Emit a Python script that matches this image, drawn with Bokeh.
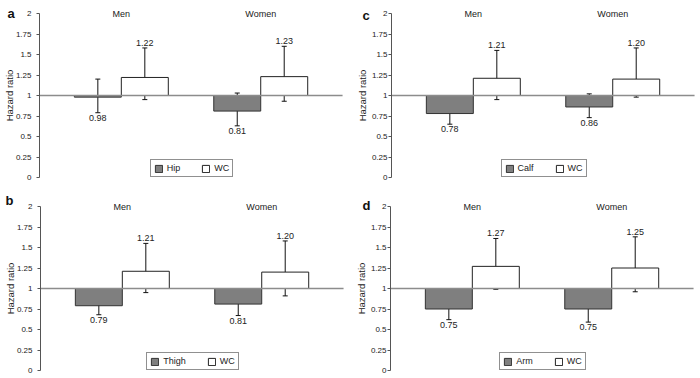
from bokeh.plotting import figure
from bokeh.models import (ColumnDataSource, Range1d, FixedTicker, Whisker, TeeHead,
                          Legend, LegendItem)
from bokeh.layouts import column, row
from bokeh.embed import file_html
from bokeh.resources import INLINE
from bokeh.core.properties import value

# ---------------- data ----------------
sexes = ["Men", "Women"]
panel_letters = ["a", "b", "c", "d"]
measures = ["Hip", "Thigh", "Calf", "Arm"]
measure_hr = [[0.98, 0.81], [0.79, 0.81], [0.78, 0.86], [0.75, 0.75]]
measure_lo = [[0.79, 0.63], [0.68, 0.67], [0.65, 0.73], [0.62, 0.59]]
measure_hi = [[1.20, 1.03], [0.91, 0.98], [0.92, 1.02], [0.90, 0.95]]
wc_hr = [[1.22, 1.23], [1.21, 1.20], [1.21, 1.20], [1.27, 1.25]]
wc_lo = [[0.95, 0.93], [0.95, 0.91], [0.95, 0.98], [0.99, 0.96]]
wc_hi = [[1.58, 1.60], [1.55, 1.58], [1.55, 1.58], [1.61, 1.63]]
y_ticks = [0, 0.25, 0.5, 0.75, 1, 1.25, 1.5, 1.75, 2]
y_tick_labels = ["0", "0.25", "0.5", "0.75", "1", "1.25", "1.5", "1.75", "2"]
baseline_hr = 1

# ---------------- style ----------------
FONT = "Liberation Sans"
TXT = "#222222"
BW = 0.337              # bar width (data units)
X0, X1 = -0.087, 2.087  # plotting area in data units
KX = 139.4              # px per x unit
KY = 82.0               # px per y unit
LEG_FS = 9.0
LEG_PAD, LEG_GLYPH, LEG_STANDOFF, LEG_SPACING = 3, 9, 4, 21
# approximate advance widths (em) for legend centring
CW = {"H": .722, "i": .222, "p": .556, "T": .611, "h": .556, "g": .556, "C": .722,
      "a": .556, "l": .222, "f": .278, "A": .667, "r": .333, "m": .833, "W": .944}


def text_w(s):
    return sum(CW.get(c, .556) for c in s) * LEG_FS


def make_panel(i, width, height, axis_px, top_px, tick_standoff, lab_standoff,
               letter_dx, letter_dy):
    xs = X0 - axis_px / KX
    xe = xs + width / KX
    ye = y_ticks[-1] + top_px / KY
    ys = ye - height / KY
    p = figure(width=width, height=height, output_backend="svg", toolbar_location=None,
               title=None, x_range=Range1d(xs, xe), y_range=Range1d(ys, ye),
               x_axis_location=None,
               min_border_left=0, min_border_right=0,
               min_border_top=0, min_border_bottom=0)
    p.outline_line_color = None
    p.grid.visible = False
    p.background_fill_color = "white"
    p.border_fill_color = "white"

    ax = p.yaxis[0]
    ax.fixed_location = X0
    ax.ticker = FixedTicker(ticks=y_ticks, minor_ticks=[])
    ax.major_label_overrides = dict(zip(y_ticks, y_tick_labels))
    ax.bounds = (y_ticks[0], y_ticks[-1])
    ax.axis_line_color = "#555555"
    ax.major_tick_line_color = "#555555"
    ax.major_tick_out = 3
    ax.major_tick_in = 0
    ax.minor_tick_out = 0
    ax.minor_tick_in = 0
    ax.major_label_text_font = FONT
    ax.major_label_text_font_size = "8px"
    ax.major_label_text_color = TXT
    ax.major_label_standoff = tick_standoff
    ax.axis_label = "Hazard ratio"
    ax.axis_label_text_font = FONT
    ax.axis_label_text_font_size = "9.5px"
    ax.axis_label_text_font_style = "normal"
    ax.axis_label_text_color = TXT
    ax.axis_label_standoff = lab_standoff

    xm = [k + 0.5 - BW / 2 for k in range(len(sexes))]
    xw = [k + 0.5 + BW / 2 for k in range(len(sexes))]
    src_m = ColumnDataSource(dict(x=xm, top=measure_hr[i], lo=measure_lo[i], hi=measure_hi[i],
                                  lab=[f"{v:.2f}" for v in measure_hr[i]]))
    src_w = ColumnDataSource(dict(x=xw, top=wc_hr[i], lo=wc_lo[i], hi=wc_hi[i],
                                  lab=[f"{v:.2f}" for v in wc_hr[i]]))

    r1 = p.vbar(x="x", width=BW, bottom=baseline_hr, top="top", source=src_m,
                fill_color="#7f7f7f", line_color="#333333", line_width=1)
    r2 = p.vbar(x="x", width=BW, bottom=baseline_hr, top="top", source=src_w,
                fill_color="white", line_color="#222222", line_width=1)

    # reference line at HR = 1, from the axis to the right end of the plot area
    p.segment(x0=[X0], x1=[X1], y0=[baseline_hr], y1=[baseline_hr],
              line_color="#8c8c8c", line_width=1.5)

    for src in (src_m, src_w):
        p.add_layout(Whisker(source=src, base="x", upper="hi", lower="lo",
                             dimension="height", line_color="#111111", line_width=1,
                             upper_head=TeeHead(size=5, line_color="#111111", line_width=1),
                             lower_head=TeeHead(size=5, line_color="#111111", line_width=1)))

    p.text(x="x", y="lo", text="lab", source=src_m, text_align="center",
           text_baseline="top", y_offset=2, text_font=value(FONT),
           text_font_size="9px", text_color=TXT)
    p.text(x="x", y="hi", text="lab", source=src_w, text_align="center",
           text_baseline="bottom", y_offset=-2, text_font=value(FONT),
           text_font_size="9px", text_color=TXT)

    p.text(x=[k + 0.5 for k in range(len(sexes))], y=[y_ticks[-1]] * len(sexes),
           text=sexes, text_align="center", text_baseline="middle",
           text_font=value(FONT), text_font_size="9px", text_color=TXT)

    # panel letter
    p.text(x=[X0], y=[y_ticks[-1]], text=[panel_letters[i]], x_offset=letter_dx,
           y_offset=letter_dy, text_align="left", text_baseline="middle",
           text_font=value(FONT), text_font_size="13px", text_font_style="bold",
           text_color="#111111")

    leg_w = (2 * LEG_PAD + 2 * (LEG_GLYPH + LEG_STANDOFF) + LEG_SPACING
             + text_w(measures[i]) + text_w("WC"))
    leg_x = axis_px + (X1 - X0) * KX / 2 - leg_w / 2
    leg_y = height - (top_px + (y_ticks[-1] - y_ticks[0]) * KY)
    legend = Legend(items=[LegendItem(label=measures[i], renderers=[r1]),
                           LegendItem(label="WC", renderers=[r2])],
                    location=(leg_x, leg_y), orientation="horizontal",
                    margin=0, padding=LEG_PAD, spacing=LEG_SPACING,
                    glyph_width=LEG_GLYPH, glyph_height=LEG_GLYPH,
                    label_standoff=LEG_STANDOFF, label_height=9, label_width=0,
                    label_text_font=FONT, label_text_font_size=f"{LEG_FS}px",
                    label_text_color=TXT,
                    border_line_color="#222222", border_line_width=1,
                    background_fill_color="white", background_fill_alpha=1)
    p.add_layout(legend)
    return p


pa = make_panel(0, 350, 189, 39, 13, 5, -2, -32, 0)
pc = make_panel(2, 350, 189, 41, 13, 1, 1, -29, 2)
pb = make_panel(1, 350, 189, 40, 17, 5, -2, -35, -6)
pd = make_panel(3, 350, 189, 40, 17, 1, 1, -28, -1)

layout = column(row(pa, pc, spacing=0), row(pb, pd, spacing=0), spacing=0)

open("out.html", "w").write(file_html(layout, INLINE))
